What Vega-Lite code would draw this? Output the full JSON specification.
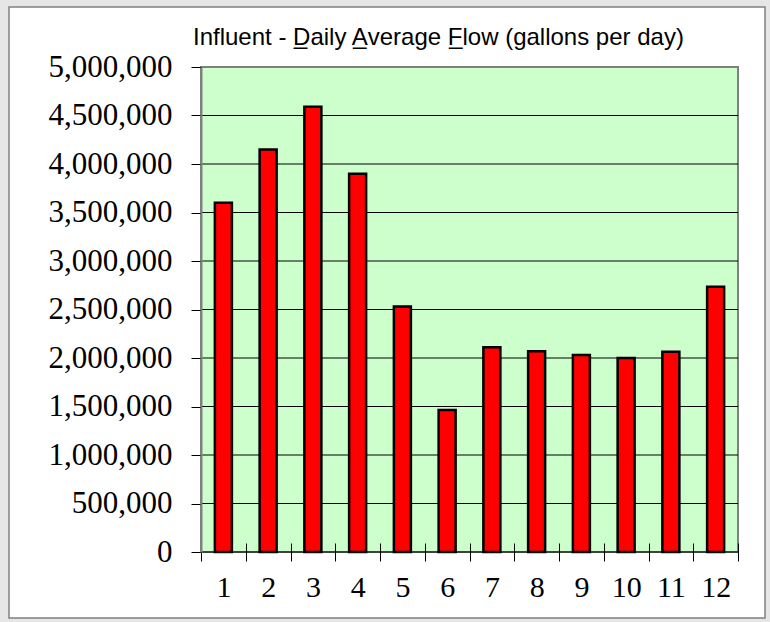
{
  "$schema": "https://vega.github.io/schema/vega-lite/v6.json",
  "width": 537,
  "height": 485,
  "padding": {"left": 8, "top": 6, "right": 6, "bottom": 5},
  "background": "#e6e6e6",
  "title": {
    "text": "Influent - D̲aily A̲verage F̲low (gallons per day)",
    "font": "Liberation Sans",
    "fontSize": 24,
    "fontWeight": "normal",
    "color": "#000000",
    "anchor": "start",
    "frame": "group",
    "dx": -8,
    "baseline": "alphabetic",
    "offset": -63
  },
  "config": {"view": {"stroke": null}},
  "datasets": {
    "flow": [
      {"month": 1, "flow": 3600000},
      {"month": 2, "flow": 4150000},
      {"month": 3, "flow": 4590000},
      {"month": 4, "flow": 3900000},
      {"month": 5, "flow": 2530000},
      {"month": 6, "flow": 1465000},
      {"month": 7, "flow": 2110000},
      {"month": 8, "flow": 2070000},
      {"month": 9, "flow": 2030000},
      {"month": 10, "flow": 2000000},
      {"month": 11, "flow": 2065000},
      {"month": 12, "flow": 2735000}
    ],
    "grid": [
      {"level": 0}, {"level": 500000}, {"level": 1000000}, {"level": 1500000},
      {"level": 2000000}, {"level": 2500000}, {"level": 3000000}, {"level": 3500000},
      {"level": 4000000}, {"level": 4500000}
    ]
  },
  "layer": [
    {
      "data": {"values": [{}]},
      "mark": {"type": "rect", "fill": "#ffffff", "stroke": "#808080", "strokeWidth": 1.5},
      "encoding": {
        "x": {"datum": -0.35754, "type": "quantitative", "scale": {"domain": [0, 1], "nice": false, "zero": false}, "axis": null},
        "x2": {"datum": 1.05028},
        "y": {"datum": -0.13608, "type": "quantitative", "scale": {"domain": [0, 1], "nice": false, "zero": false}, "axis": null},
        "y2": {"datum": 1.12371}
      }
    },
    {
      "data": {"values": [{}]},
      "mark": {"type": "rect", "fill": "#ccffcc", "stroke": "#808080", "strokeWidth": 2},
      "encoding": {
        "x": {"datum": 0, "type": "quantitative", "scale": {"domain": [0, 1], "nice": false, "zero": false}, "axis": null},
        "x2": {"datum": 1},
        "y": {"datum": 0, "type": "quantitative", "scale": {"domain": [0, 1], "nice": false, "zero": false}, "axis": null},
        "y2": {"datum": 1}
      }
    },
    {
      "data": {"name": "grid"},
      "mark": {"type": "rule", "color": "#000000", "strokeWidth": 1},
      "encoding": {
        "y": {"field": "level", "type": "quantitative", "scale": {"domain": [0, 5000000], "nice": false}, "axis": null}
      }
    },
    {
      "data": {"name": "flow"},
      "mark": {"type": "bar", "fill": "#ff0000", "stroke": "#000000", "strokeWidth": 2.5, "width": {"band": 0.38}},
      "encoding": {
        "x": {
          "field": "month",
          "type": "ordinal",
          "scale": {"paddingInner": 0, "paddingOuter": 0},
          "axis": {
            "title": null,
            "labelAngle": 0,
            "tickBand": "extent",
            "offset": -9,
            "domain": false,
            "grid": false,
            "tickSize": 18,
            "tickColor": "#000000",
            "tickWidth": 1,
            "labelFont": "Liberation Serif",
            "labelFontSize": 30,
            "labelColor": "#000000",
            "labelPadding": 11,
            "zindex": 1
          }
        },
        "y": {
          "field": "flow",
          "type": "quantitative",
          "scale": {"domain": [0, 5000000], "nice": false},
          "axis": {
            "title": null,
            "values": [0, 500000, 1000000, 1500000, 2000000, 2500000, 3000000, 3500000, 4000000, 4500000, 5000000],
            "format": ",d",
            "grid": false,
            "domainColor": "#808080",
            "domainWidth": 2,
            "tickColor": "#000000",
            "tickSize": 10,
            "tickWidth": 1,
            "labelFont": "Liberation Serif",
            "labelFontSize": 31,
            "labelColor": "#000000",
            "labelPadding": 19,
            "zindex": 1
          }
        }
      }
    }
  ],
  "resolve": {"scale": {"x": "independent", "y": "independent"}}
}
